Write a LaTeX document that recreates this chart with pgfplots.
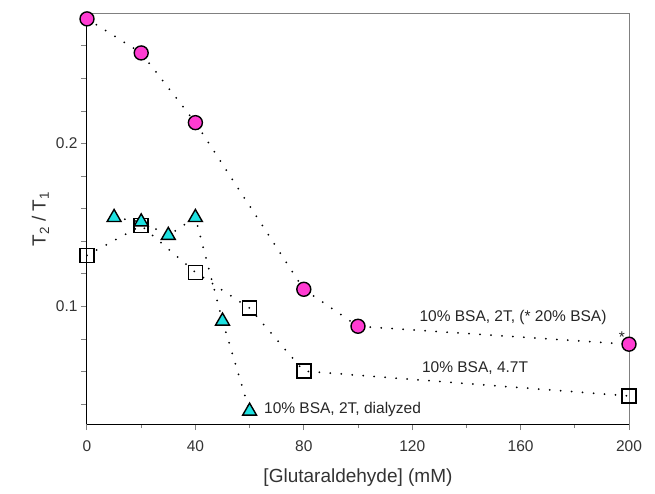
\documentclass[border=0pt]{standalone}
\usepackage{pgfplots}
\pgfplotsset{compat=1.18}
\usepackage{fontspec}
\setmainfont{Liberation Sans}
\definecolor{mymag}{RGB}{255,60,210}
\definecolor{mycyan}{RGB}{30,225,225}

\begin{document}
\begin{tikzpicture}
    \begin{axis}[
        name=ax,
        scale only axis,
        width=542pt, height=410pt,
        xmin=0, xmax=200,
        ymin=0.0279, ymax=0.2796,
        axis lines=left,
        axis line style={-, line width=1pt},
        tick align=outside,
        xtick={0,40,...,200},
        minor xtick={20,60,...,180},
        ytick={0.04,0.06,0.08,0.10,0.12,0.14,0.16,0.18,0.20,0.22,0.24,0.26},
        yticklabels={,,,0.1,,,,,0.2,,,},
        major tick length=6pt,
        minor tick length=4pt,
        every minor tick/.append style={line width=1pt},
        every major tick/.append style={line width=1pt},
        /pgf/number format/assume math mode=true,
        tick label style={font=\fontsize{15.5}{18}\selectfont, text=black!80},
        xticklabel style={yshift=-7pt},
        label style={font=\fontsize{19}{22}\selectfont, text=black!80},
        xlabel style={yshift=-10pt},
        xlabel={[Glutaraldehyde] (mM)},
        ylabel={T\textsubscript{2} / T\textsubscript{1}},
        clip=false,
    ]
        % dotted connecting lines
        \addplot[black, line width=2pt, line cap=round, dash pattern=on 0pt off 11pt, mark=none] coordinates {
            (0,0.2766) (20,0.2557) (40,0.2129) (80,0.1106) (100,0.0879) (200,0.0769)
        };
        \addplot[black, line width=2pt, line cap=round, dash pattern=on 0pt off 11pt, mark=none] coordinates {
            (0,0.1314) (20,0.1497) (40,0.1210) (60,0.0990) (80,0.0604) (200,0.0451)
        };
        \addplot[black, line width=2pt, line cap=round, dash pattern=on 0pt off 11pt, mark=none] coordinates {
            (10,0.1547) (20,0.1520) (30,0.1437) (40,0.1547) (50,0.0911) (60,0.0358)
        };
        % markers
        \addplot[only marks, mark=square, mark size=7pt, line width=1.5pt, black] coordinates {
            (0,0.1314) (20,0.1497) (40,0.1210) (60,0.0990) (80,0.0604) (200,0.0451)
        };
        \addplot[only marks, mark=triangle*, mark size=8pt, line width=1.4pt,
            mark options={fill=mycyan, draw=black}] coordinates {
            (10,0.1547) (20,0.1520) (30,0.1437) (40,0.1547) (50,0.0911) (60,0.0358)
        };
        \addplot[only marks, mark=*, mark size=7pt, line width=1.4pt,
            mark options={fill=mymag, draw=black}] coordinates {
            (0,0.2766) (20,0.2557) (40,0.2129) (80,0.1106) (100,0.0879) (200,0.0769)
        };
        \draw[black!50, line width=1pt] (rel axis cs:0,1) -- (rel axis cs:1,1) -- (rel axis cs:1,0);
        \node[font=\fontsize{15.5}{18}\selectfont, text=black!85] at (axis cs:157.2,0.0934) {10\% BSA, 2T, (* 20\% BSA)};
        \node[font=\fontsize{15.5}{18}\selectfont, text=black!85] at (axis cs:143.2,0.0622) {10\% BSA, 4.7T};
        \node[font=\fontsize{15.5}{18}\selectfont, text=black!85, anchor=west, inner sep=0pt] at (axis cs:65.3,0.0371) {10\% BSA, 2T, dialyzed};
        \node[font=\fontsize{15.5}{18}\selectfont, text=black!85] at (axis cs:197.4,0.0815) {*};
    \end{axis}
    \pgfresetboundingbox
    \path[use as bounding box] ([shift={(-87pt,-69pt)}]ax.south west) rectangle ([shift={(26pt,14pt)}]ax.north east);
\end{tikzpicture}
\end{document}
